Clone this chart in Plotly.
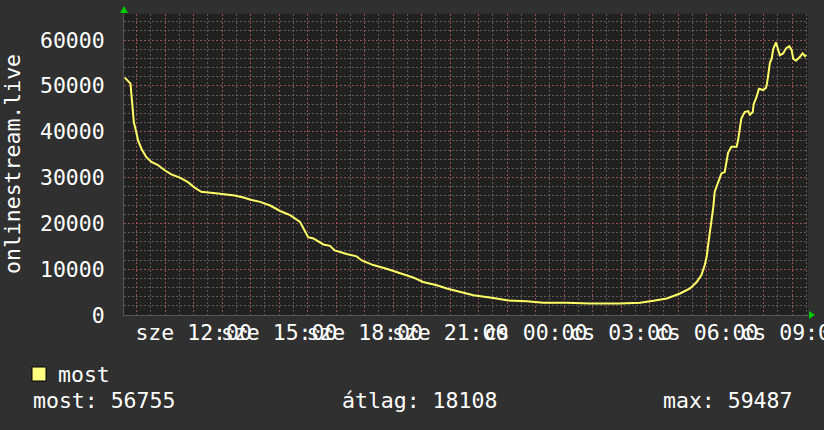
import plotly.graph_objects as go
import pandas as pd

# ---- data ----
times = [
    "2024-01-03 09:35", "2024-01-03 09:42", "2024-01-03 09:47", "2024-01-03 09:50",
    "2024-01-03 09:54", "2024-01-03 09:59", "2024-01-03 10:03", "2024-01-03 10:10",
    "2024-01-03 10:20", "2024-01-03 10:31", "2024-01-03 10:45", "2024-01-03 10:59",
    "2024-01-03 11:13", "2024-01-03 11:31", "2024-01-03 11:48", "2024-01-03 12:02",
    "2024-01-03 12:16", "2024-01-03 12:51", "2024-01-03 13:26", "2024-01-03 13:47",
    "2024-01-03 13:58", "2024-01-03 14:20", "2024-01-03 14:41", "2024-01-03 15:02",
    "2024-01-03 15:23", "2024-01-03 15:44", "2024-01-03 15:54", "2024-01-03 16:01",
    "2024-01-03 16:12", "2024-01-03 16:26", "2024-01-03 16:33", "2024-01-03 16:47",
    "2024-01-03 16:57", "2024-01-03 17:22", "2024-01-03 17:43", "2024-01-03 17:54",
    "2024-01-03 18:18", "2024-01-03 18:46", "2024-01-03 19:14", "2024-01-03 19:42",
    "2024-01-03 20:03", "2024-01-03 20:32", "2024-01-03 20:53", "2024-01-03 21:21",
    "2024-01-03 21:49", "2024-01-03 22:31", "2024-01-03 22:59", "2024-01-03 23:41",
    "2024-01-04 00:16", "2024-01-04 01:05", "2024-01-04 01:54", "2024-01-04 02:57",
    "2024-01-04 03:40", "2024-01-04 04:08", "2024-01-04 04:36", "2024-01-04 05:04",
    "2024-01-04 05:25", "2024-01-04 05:39", "2024-01-04 05:49", "2024-01-04 05:56",
    "2024-01-04 06:00", "2024-01-04 06:03", "2024-01-04 06:10", "2024-01-04 06:14",
    "2024-01-04 06:17", "2024-01-04 06:24", "2024-01-04 06:31", "2024-01-04 06:38",
    "2024-01-04 06:42", "2024-01-04 06:45", "2024-01-04 06:52", "2024-01-04 07:03",
    "2024-01-04 07:06", "2024-01-04 07:10", "2024-01-04 07:13", "2024-01-04 07:20",
    "2024-01-04 07:27", "2024-01-04 07:31", "2024-01-04 07:37", "2024-01-04 07:39",
    "2024-01-04 07:45", "2024-01-04 07:50", "2024-01-04 07:59", "2024-01-04 08:05",
    "2024-01-04 08:07", "2024-01-04 08:10", "2024-01-04 08:13", "2024-01-04 08:17",
    "2024-01-04 08:20", "2024-01-04 08:26", "2024-01-04 08:29", "2024-01-04 08:34",
    "2024-01-04 08:41", "2024-01-04 08:47", "2024-01-04 08:54", "2024-01-04 08:59",
    "2024-01-04 09:02", "2024-01-04 09:08", "2024-01-04 09:16", "2024-01-04 09:22",
    "2024-01-04 09:27", "2024-01-04 09:30",
]
values = [
    51800, 51100, 50500, 46900,
    42100, 40000, 38100, 36300,
    34500, 33400, 32700, 31600,
    30700, 30000, 29000, 27800,
    26900, 26500, 26100, 25600,
    25200, 24700, 23900, 22700,
    21800, 20300, 18500, 17000,
    16700, 15900, 15400, 15100,
    14100, 13300, 12800, 11900,
    10900, 10100, 9200, 8200,
    7200, 6500, 5800, 5000,
    4300, 3700, 3200, 3000,
    2700, 2700, 2500, 2500,
    2700, 3100, 3600, 4700,
    5800, 7200, 8700, 10900,
    12700, 15200, 20000, 23600,
    26900, 29000, 30900, 31200,
    33800, 35400, 36700, 36700,
    38100, 40500, 42900, 44300,
    44500, 43700, 44300, 46000,
    47600, 49400, 49100, 49600,
    50500, 52700, 55000, 56000,
    58000, 59487, 58200, 56700,
    57100, 58200, 58700, 57800,
    56000, 55500, 56300, 57100,
    56500, 56755,
]

series_name = "most"
y_title = "onlinestream.live"
x_label_times = ["2024-01-03 12:00", "2024-01-03 15:00", "2024-01-03 18:00", "2024-01-03 21:00",
                 "2024-01-04 00:00", "2024-01-04 03:00", "2024-01-04 06:00", "2024-01-04 09:00"]
x_label_texts = ["sze 12:00", "sze 15:00", "sze 18:00", "sze 21:00",
                 "cs 00:00", "cs 03:00", "cs 06:00", "cs 09:00"]
y_tick_values = [0, 10000, 20000, 30000, 40000, 50000, 60000]
stat_labels = ["most: 56755", "átlag: 18108", "max: 59487"]

x_start = "2024-01-03 09:33:20"
x_end = "2024-01-04 09:33:20"
y_max = 65700

# ---- styling ----
FONT = "DejaVu Sans Mono"
FS = 21.5
BG = "#303030"
PLOT_BG = "#212121"
LINE = "#ffff66"
MAJOR = "rgba(200,70,70,0.55)"
MINOR = "rgba(140,140,140,0.55)"
W, H = 824, 430
L, R, T, B = 124, 16, 14, 115
pw, ph = W - L - R, H - T - B


def px(x):
    return (x - L) / pw


def py(y):
    return (H - B - y) / ph


hourly = pd.date_range("2024-01-03 10:00", "2024-01-04 09:00", freq="h")
lab_map = {pd.Timestamp(t): s for t, s in zip(x_label_times, x_label_texts)}
tickvals = [t.strftime("%Y-%m-%d %H:%M") for t in hourly]
ticktext = [lab_map.get(t, "") for t in hourly]

fig = go.Figure()
fig.add_trace(go.Scatter(
    x=times, y=values, mode="lines", name=series_name,
    line=dict(color=LINE, width=2), showlegend=False,
))

fig.update_layout(
    width=W, height=H,
    margin=dict(l=L, r=R, t=T, b=B, autoexpand=False),
    paper_bgcolor=BG, plot_bgcolor=PLOT_BG,
    font=dict(family=FONT, size=FS, color="#ffffff"),
    showlegend=False,
    xaxis=dict(
        type="date", range=[x_start, x_end],
        tickmode="array", tickvals=tickvals, ticktext=ticktext,
        tickangle=0, automargin=False, ticklabeloverflow="allow",
        showgrid=True, gridcolor=MAJOR, griddash="2px,2px", gridwidth=1,
        ticks="", zeroline=False, ticklabelstandoff=-2,
        showline=True, linecolor="#555555", linewidth=1,
        minor=dict(dtick=1800000, tick0="2024-01-03 00:00", showgrid=True,
                   gridcolor=MINOR, griddash="2px,2px", gridwidth=1),
        tickfont=dict(family=FONT, size=FS, color="#ffffff"),
    ),
    yaxis=dict(
        range=[0, y_max], tickmode="array", tickvals=y_tick_values,
        ticktext=[str(v) for v in y_tick_values], automargin=False,
        showgrid=True, gridcolor=MAJOR, griddash="2px,2px", gridwidth=1,
        ticks="", zeroline=False, ticklabelstandoff=14,
        showline=True, linecolor="#555555", linewidth=1,
        minor=dict(dtick=2000, showgrid=True, gridcolor=MINOR,
                   griddash="2px,2px", gridwidth=1),
        tickfont=dict(family=FONT, size=FS, color="#ffffff"),
    ),
)

ann = []
# y-axis title
ann.append(dict(xref="paper", yref="paper", x=px(12), y=py(164), text=y_title,
                textangle=-90, showarrow=False, xanchor="center", yanchor="middle",
                font=dict(family=FONT, size=FS, color="#ffffff")))
# legend entry
ann.append(dict(xref="paper", yref="paper", x=px(56), y=py(374), text=series_name,
                showarrow=False, xanchor="left", yanchor="middle",
                font=dict(family=FONT, size=FS, color="#ffffff")))
# stats row
for xpos, txt in zip([31, 340, 661], stat_labels):
    ann.append(dict(xref="paper", yref="paper", x=px(xpos), y=py(401), text=txt,
                    showarrow=False, xanchor="left", yanchor="middle",
                    font=dict(family=FONT, size=FS, color="#ffffff")))
fig.update_layout(annotations=ann)

shapes = [
    # legend swatch
    dict(type="rect", xref="paper", yref="paper", x0=px(32), x1=px(46), y0=py(381), y1=py(367),
         fillcolor="#ffff80", line=dict(color="#000000", width=1)),
    # green arrow on top of y axis
    dict(type="path", xref="paper", yref="paper",
         path=f"M {px(120)} {py(13)} L {px(128)} {py(13)} L {px(124)} {py(6)} Z",
         fillcolor="#00cc00", line=dict(color="#00cc00", width=0)),
    # green arrow at right of x axis
    dict(type="path", xref="paper", yref="paper",
         path=f"M {px(809)} {py(311)} L {px(809)} {py(319)} L {px(815)} {py(315)} Z",
         fillcolor="#00cc00", line=dict(color="#00cc00", width=0)),
]
fig.update_layout(shapes=shapes)

fig.write_html(
    "out.html",
    config={"displayModeBar": False, "staticPlot": True},
    post_script="document.body.style.margin='0';document.body.style.overflow='hidden';",
)
